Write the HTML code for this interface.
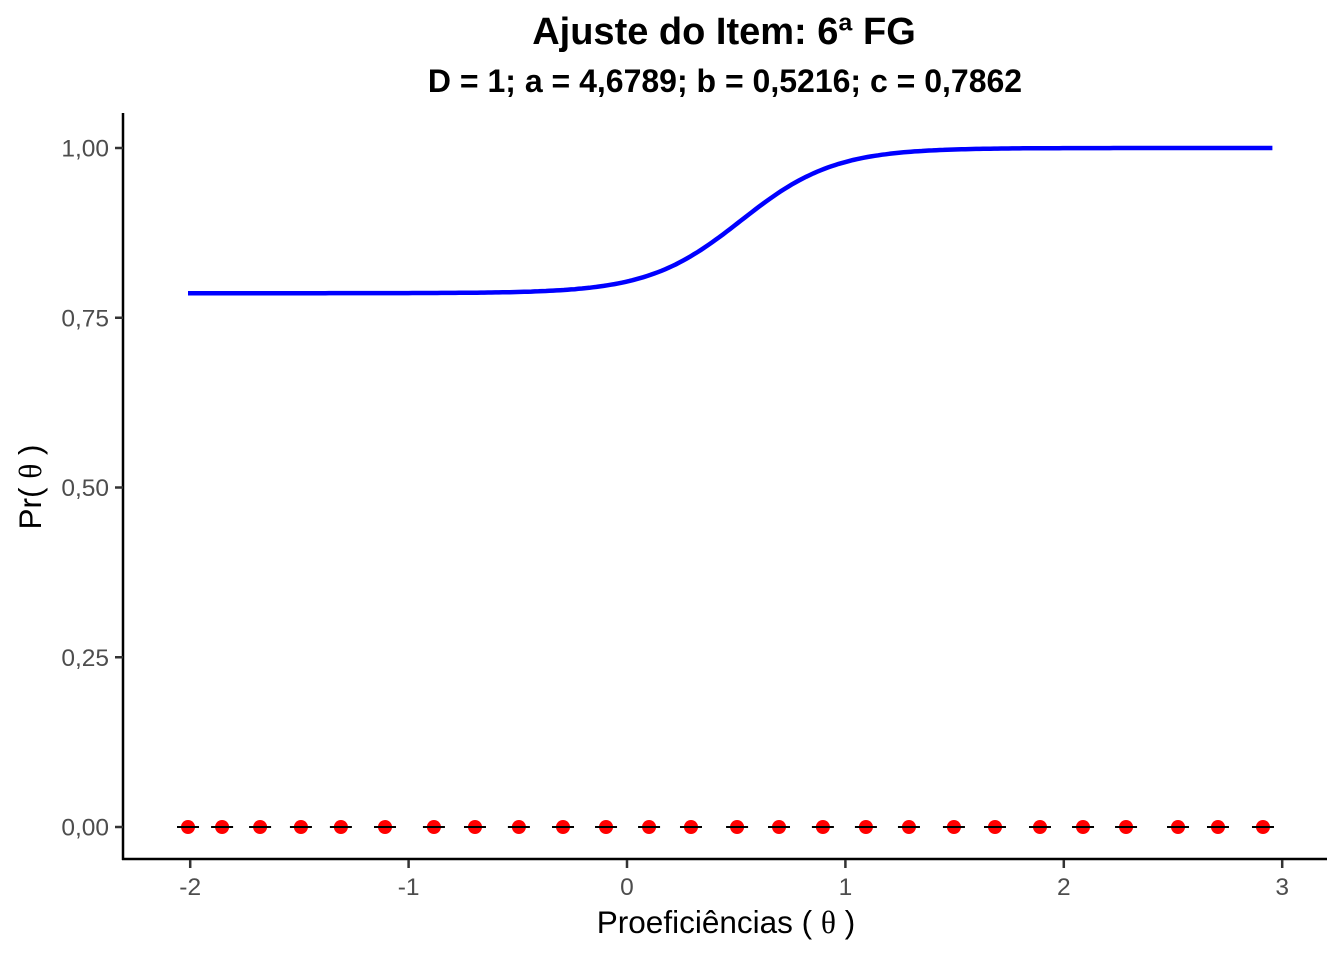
<!DOCTYPE html>
<html><head><meta charset="utf-8"><style>
body{margin:0;background:#fff;}
text{font-family:"Liberation Sans",sans-serif;}
</style></head><body>
<svg id="chart" width="1344" height="960" xmlns="http://www.w3.org/2000/svg">
<text x="724" y="44" text-anchor="middle" font-size="38" font-weight="bold">Ajuste do Item: 6ª FG</text>
<text x="725" y="92" text-anchor="middle" font-size="32" font-weight="bold">D = 1; a = 4,6789; b = 0,5216; c = 0,7862</text>
<line x1="123" y1="113" x2="123" y2="860" stroke="#000" stroke-width="2.5"/>
<line x1="122" y1="859" x2="1327" y2="859" stroke="#000" stroke-width="2.5"/>
<g id="ticks"></g>
<text x="726" y="933" text-anchor="middle" font-size="31.5">Proeficiências ( <tspan font-family="Liberation Serif">θ</tspan> )</text>
<text transform="translate(41,487) rotate(-90)" text-anchor="middle" font-size="31.5">Pr( <tspan font-family="Liberation Serif">θ</tspan> )</text>
<path id="curve" fill="none" stroke="#0000ff" stroke-width="4.5"/>
<g id="points"></g>
</svg>
<script>
const xTicks=[-2,-1,0,1,2,3];
const yTicks=[0,0.25,0.5,0.75,1];
const yTickLabels=["0,00","0,25","0,50","0,75","1,00"];
const paramA=4.6789, paramB=0.5216, paramC=0.7862, paramD=1;
const thetaMin=-2.01, thetaMax=2.955;
const obsTheta=[-2.01,-1.854,-1.68,-1.493,-1.31,-1.108,-0.884,-0.696,-0.495,-0.293,-0.096,0.101,0.293,0.504,0.696,0.897,1.094,1.291,1.497,1.685,1.891,2.088,2.285,2.523,2.706,2.912];
const obsProp=[0,0,0,0,0,0,0,0,0,0,0,0,0,0,0,0,0,0,0,0,0,0,0,0,0,0];
const X=v=>627+v*218.4, Y=v=>827-v*679;
const NS="http://www.w3.org/2000/svg";
const tg=document.getElementById('ticks');
function mk(tag,attrs,parent){const e=document.createElementNS(NS,tag);for(const k in attrs)e.setAttribute(k,attrs[k]);parent.appendChild(e);return e;}
xTicks.forEach(t=>{
 const l=mk('line',{x1:X(t),x2:X(t),y1:860,y2:868,stroke:'#333','stroke-width':2.5},tg);
 
 
 const s=mk('text',{x:X(t),y:895,'text-anchor':'middle','font-size':24.5,fill:'#4d4d4d'},tg);
 s.textContent=t;
 
 
});
yTicks.forEach((t,i)=>{
 const l=mk('line',{x1:115,x2:123,y1:Y(t),y2:Y(t),stroke:'#333','stroke-width':2.5},tg);
 
 
 const s=mk('text',{x:109,y:Y(t)+8.5,'text-anchor':'end','font-size':24.5,fill:'#4d4d4d'},tg);
 s.textContent=yTickLabels[i];
 
 
});
let d='';
for(let i=0;i<=300;i++){const th=thetaMin+(thetaMax-thetaMin)*i/300;const p=paramC+(1-paramC)/(1+Math.exp(-paramD*paramA*(th-paramB)));d+=(i?'L':'M')+X(th).toFixed(1)+','+Y(p).toFixed(1);}
document.getElementById('curve').setAttribute('d',d);
const pg=document.getElementById('points');
obsTheta.forEach((t,i)=>{
 const c=mk('circle',{cx:X(t),cy:Y(obsProp[i]),r:7,fill:'#ff0000'},pg);
 
 
 const l2=mk('line',{x1:X(t)-11,x2:X(t)+11,y1:Y(obsProp[i]),y2:Y(obsProp[i]),stroke:'#000','stroke-width':2},pg);
 
 
});
</script>
</body></html>
